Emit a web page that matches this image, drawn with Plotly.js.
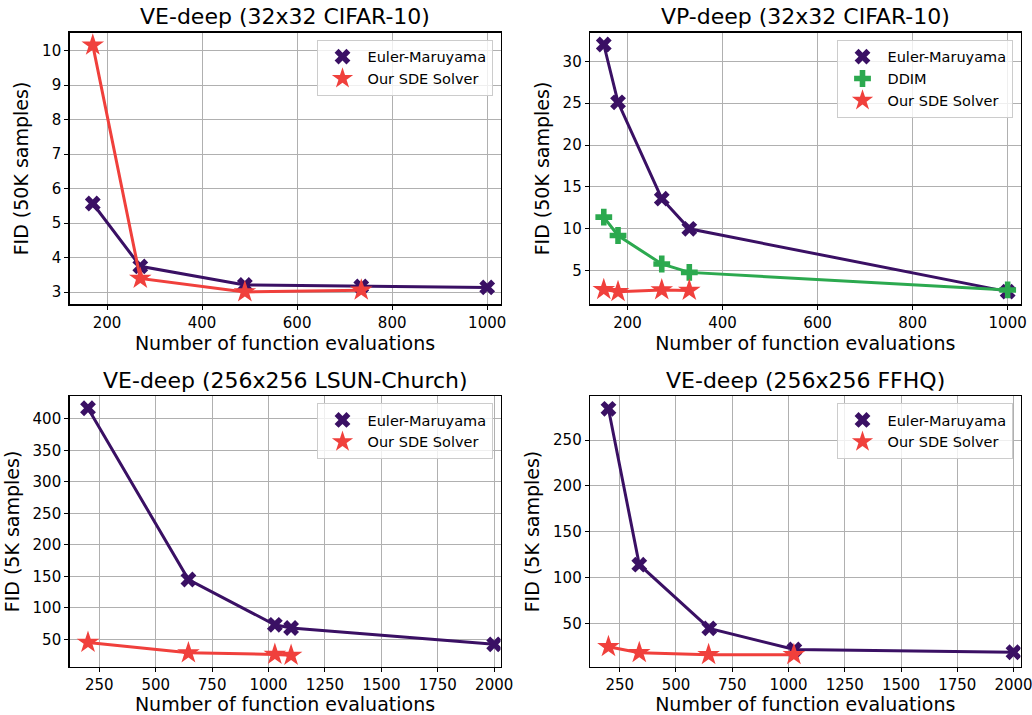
<!DOCTYPE html>
<html>
<head>
<meta charset="utf-8">
<script src="https://cdn.plot.ly/plotly-3.0.1.min.js"></script>
<style>html,body{margin:0;padding:0;background:#fff;}#chart{width:1032px;height:715px;}</style>
</head>
<body>
<div id="chart"></div>
<script>
// ---- data ----
const titles = ["VE-deep (32x32 CIFAR-10)", "VP-deep (32x32 CIFAR-10)", "VE-deep (256x256 LSUN-Church)", "VE-deep (256x256 FFHQ)"];
const yTitles = ["FID (50K samples)", "FID (50K samples)", "FID (5K samples)", "FID (5K samples)"];
const xTitle = "Number of function evaluations";
const seriesNames = ["Euler-Maruyama", "DDIM", "Our SDE Solver"];

// Panel 1: VE-deep CIFAR-10
const p1_em_x = [170, 270, 490, 735, 1000];
const p1_em_y = [5.57, 3.75, 3.21, 3.17, 3.14];
const p1_ours_x = [170, 270, 490, 735];
const p1_ours_y = [10.16, 3.40, 3.01, 3.06];

// Panel 2: VP-deep CIFAR-10
const p2_em_x = [150, 180, 272, 330, 1000];
const p2_em_y = [32.0, 25.1, 13.6, 10.0, 2.5];
const p2_ddim_x = [150, 180, 272, 330, 1000];
const p2_ddim_y = [11.4, 9.2, 5.8, 4.8, 2.7];
const p2_ours_x = [150, 180, 272, 330];
const p2_ours_y = [2.75, 2.5, 2.7, 2.65];

// Panel 3: VE-deep LSUN-Church
const p3_em_x = [200, 645, 1028, 1100, 2000];
const p3_em_y = [417, 145, 73, 68, 42];
const p3_ours_x = [200, 645, 1028, 1100];
const p3_ours_y = [45, 28.5, 26, 24.5];

// Panel 4: VE-deep FFHQ
const p4_em_x = [200, 337, 648, 1026, 2000];
const p4_em_y = [284, 114, 44.5, 21.5, 18.5];
const p4_ours_x = [200, 337, 645, 1024];
const p4_ours_y = [24.5, 18, 15.8, 15.8];

// ---- styles ----
const W = 1032, H = 715;
const colEM = "#3a1064", colDDIM = "#2ca94f", colOurs = "#f0403c";
const FONT = "DejaVu Sans";

function pair(x, y, name, color, symbol, size, ax, lg) {
  return [
    {x: x, y: y, mode: "lines", line: {color: color, width: 3}, showlegend: false,
     xaxis: "x" + ax, yaxis: "y" + ax, hoverinfo: "skip"},
    {x: x, y: y, mode: "markers", name: name, legend: lg,
     marker: {color: color, symbol: symbol, size: size, line: {width: 0}},
     xaxis: "x" + ax, yaxis: "y" + ax}
  ];
}

const data = [].concat(
  pair(p1_em_x, p1_em_y, seriesNames[0], colEM, "x", 14, "", "legend"),
  pair(p1_ours_x, p1_ours_y, seriesNames[2], colOurs, "star", 17, "", "legend"),
  pair(p2_em_x, p2_em_y, seriesNames[0], colEM, "x", 14, "2", "legend2"),
  pair(p2_ddim_x, p2_ddim_y, seriesNames[1], colDDIM, "cross", 14, "2", "legend2"),
  pair(p2_ours_x, p2_ours_y, seriesNames[2], colOurs, "star", 17, "2", "legend2"),
  pair(p3_em_x, p3_em_y, seriesNames[0], colEM, "x", 14, "3", "legend3"),
  pair(p3_ours_x, p3_ours_y, seriesNames[2], colOurs, "star", 17, "3", "legend3"),
  pair(p4_em_x, p4_em_y, seriesNames[0], colEM, "x", 14, "4", "legend4"),
  pair(p4_ours_x, p4_ours_y, seriesNames[2], colOurs, "star", 17, "4", "legend4")
);

// pixel boxes of the four plot areas: [left, right, top, bottom]
const boxes = [[69.5, 500.5, 32.7, 304.3], [590, 1020.5, 32.7, 304.3], [69.5, 500.5, 396, 667], [590, 1020.5, 396, 667]];
const xRanges = [[121, 1028], [121, 1027], [118, 2028], [118, 2031]];
const yRanges = [[2.65, 10.52], [0.99, 33.41], [6, 436.5], [2.4, 298]];
const xDticks = [200, 200, 250, 250];
const yDticks = [1, 5, 50, 50];

const layout = {
  width: W, height: H,
  margin: {l: 0, r: 0, t: 0, b: 0},
  paper_bgcolor: "#fff", plot_bgcolor: "#fff",
  font: {family: FONT, color: "#000", size: 15},
  showlegend: true,
  annotations: []
};

function axisBase() {
  return {
    showline: true, linecolor: "#000", linewidth: 1.3, mirror: true,
    ticks: "outside", ticklen: 4, tickwidth: 1, tickcolor: "#000",
    showgrid: true, gridcolor: "#b0b0b0", gridwidth: 1,
    zeroline: false, automargin: false, ticklabeloverflow: "allow",
    tickfont: {family: FONT, size: 15, color: "#000"}
  };
}

for (let i = 0; i < 4; i++) {
  const b = boxes[i];
  const sfx = i === 0 ? "" : String(i + 1);
  const xa = Object.assign(axisBase(), {
    domain: [b[0] / W, b[1] / W], range: xRanges[i], dtick: xDticks[i], tick0: 0,
    anchor: "y" + sfx,
    title: {text: xTitle, font: {family: FONT, size: 19, color: "#000"}, standoff: 6}
  });
  const ya = Object.assign(axisBase(), {
    domain: [1 - b[3] / H, 1 - b[2] / H], range: yRanges[i], dtick: yDticks[i], tick0: 0,
    anchor: "x" + sfx,
    title: {text: yTitles[i], font: {family: FONT, size: 19, color: "#000"}, standoff: 8}
  });
  layout["xaxis" + sfx] = xa;
  layout["yaxis" + sfx] = ya;
  layout.annotations.push({
    text: titles[i], xref: "paper", yref: "paper",
    x: (b[0] + b[1]) / 2 / W, y: 1 - (b[2] - 16) / H,
    xanchor: "center", yanchor: "middle", showarrow: false,
    font: {family: FONT, size: 22, color: "#000"}
  });
  const lg = {
    x: (b[1] - 8) / W, y: 1 - (b[2] + 7) / H, xanchor: "right", yanchor: "top",
    bgcolor: "rgba(255,255,255,0.8)", bordercolor: "#cccccc", borderwidth: 1,
    font: {family: FONT, size: 14.5, color: "#000"}, tracegroupgap: 0, itemwidth: 40
  };
  layout[i === 0 ? "legend" : "legend" + (i + 1)] = lg;
}

Plotly.newPlot("chart", data, layout, {displayModeBar: false, staticPlot: true});
</script>
</body>
</html>
